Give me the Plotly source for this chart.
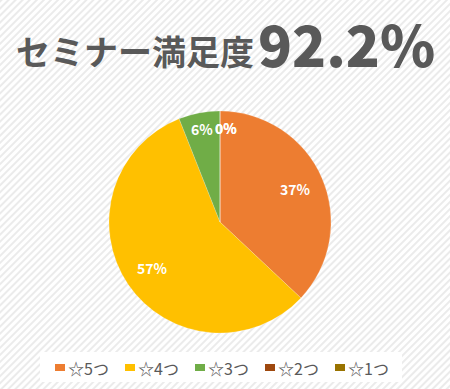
import base64
import math
import plotly.graph_objects as go

labels = ["☆5つ", "☆4つ", "☆3つ", "☆2つ", "☆1つ"]
values = [37, 57, 6, 0, 0]
colors = ["#ED7D31", "#FFC000", "#70AD47", "#9E480E", "#997300"]
title_text = "セミナー満足度"
title_value = "92.2%"

W, H = 450, 389
CX, CY, R = 220, 222, 111  # pie centre / radius in px

svg = f'''<svg xmlns="http://www.w3.org/2000/svg" width="{W}" height="{H}">
<defs><pattern id="p" width="5" height="5" patternUnits="userSpaceOnUse" patternTransform="rotate(45)">
<rect width="5" height="5" fill="#ffffff"/><rect width="2.0" height="5" fill="#ebebeb"/></pattern></defs>
<rect width="{W}" height="{H}" fill="url(#p)"/></svg>'''
bg = "data:image/svg+xml;base64," + base64.b64encode(svg.encode()).decode()

font = "Noto Sans CJK JP, Noto Sans, sans-serif"

def px2x(px):
    return px / W

def py2y(py):
    return (H - py) / H

fig = go.Figure()
fig.add_trace(go.Pie(
    labels=labels, values=values, sort=False, direction="clockwise", rotation=0,
    marker=dict(colors=colors, line=dict(color="rgba(255,255,255,0.35)", width=0.5)),
    textinfo="none",
    domain=dict(x=[(CX-R)/W, (CX+R)/W], y=[(H-CY-R)/H, (H-CY+R)/H]),
    showlegend=False, hoverinfo="label+percent",
))

# data labels placed like Excel's best-fit labels
total = sum(values)
cum = 0.0
for v in values:
    frac = v / total
    mid = (cum + frac / 2) * 2 * math.pi
    cum += frac
    rr = 0.74 * R if frac >= 0.1 else 0.85 * R
    px = CX + rr * math.sin(mid)
    py = CY - rr * math.cos(mid)
    if frac == 0:
        px += 6
    fig.add_annotation(x=px2x(px), y=py2y(py), xref="paper", yref="paper",
                       xanchor="center", yanchor="middle",
                       text=f"<b>{round(frac*100)}%</b>", showarrow=False,
                       font=dict(family=font, size=14, color="white"))

# title: label and big value
fig.add_annotation(
    x=px2x(14), y=py2y(50), xref="paper", yref="paper", showarrow=False,
    xanchor="left", yanchor="middle", text=f"<b>{title_text}</b>",
    font=dict(family=font, size=34, color="#595959"),
)
fig.add_annotation(
    x=px2x(256), y=py2y(43), xref="paper", yref="paper", showarrow=False,
    xanchor="left", yanchor="middle", text=title_value,
    font=dict(family=font, size=56, color="#595959", weight=900),
)

# legend (Excel style: small square right next to its label)
shapes = [dict(type="rect", xref="paper", yref="paper", x0=px2x(40), x1=px2x(402),
               y0=py2y(382), y1=py2y(352), fillcolor="white", line=dict(width=0),
               layer="above")]
for i, (lab, col) in enumerate(zip(labels, colors)):
    sx = 55 + 70 * i
    shapes.append(dict(type="rect", xref="paper", yref="paper", x0=px2x(sx), x1=px2x(sx + 10),
                       y0=py2y(371), y1=py2y(364), fillcolor=col, line=dict(width=0),
                       layer="above"))
    fig.add_annotation(x=px2x(sx + 11), y=py2y(367.5), xref="paper", yref="paper",
                       xanchor="left", yanchor="middle", showarrow=False, text=lab,
                       font=dict(family=font, size=16, color="#595959"))

fig.update_layout(
    width=W, height=H, margin=dict(l=0, r=0, t=0, b=0, autoexpand=False),
    paper_bgcolor="#f4f4f4", plot_bgcolor="rgba(0,0,0,0)",
    images=[dict(source=bg, xref="paper", yref="paper", x=0, y=1, sizex=1, sizey=1,
                 sizing="stretch", layer="below", xanchor="left", yanchor="top")],
    shapes=shapes, showlegend=False,
)

fig.write_html("out.html", post_script="document.body.style.margin='0';",
               config={"displayModeBar": False})
